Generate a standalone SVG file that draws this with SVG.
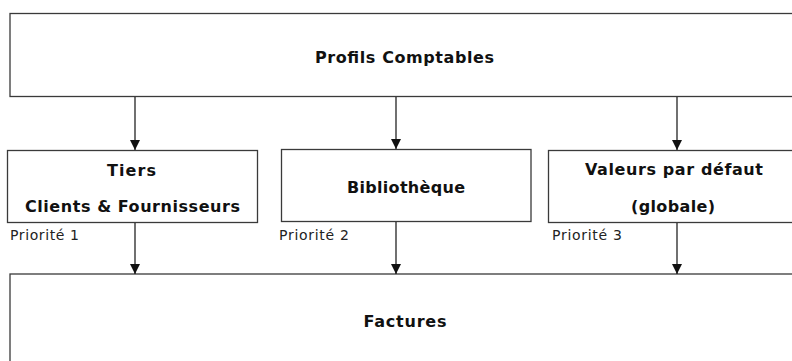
<svg xmlns="http://www.w3.org/2000/svg" width="792" height="361" viewBox="0 0 792 361">
<style>
.box{fill:#fff;stroke:#3a3a3a;stroke-width:1.3}
.t{font-family:"DejaVu Sans",Verdana,sans-serif;font-weight:bold;font-size:16px;fill:#111;text-anchor:middle}
.p{font-family:"DejaVu Sans",Verdana,sans-serif;font-size:14px;fill:#222}
.c{stroke:#111;stroke-width:1.2;fill:none;marker-end:url(#ah)}
</style>
<defs>
<marker id="ah" viewBox="0 0 10 10" refX="10" refY="5" markerWidth="10" markerHeight="10" markerUnits="userSpaceOnUse" orient="auto">
<path d="M0,0 L10,5 L0,10 Z" fill="#111"/>
</marker>
</defs>
<rect width="792" height="361" fill="#fff"/>
<g id="profils">
<rect class="box" x="10" y="13.5" width="790" height="83"/>
<text class="t" x="404.5" y="63" textLength="179" lengthAdjust="spacing">Profils Comptables</text>
</g>
<g id="tiers">
<rect class="box" x="7.5" y="150.5" width="250" height="72"/>
<text class="t" x="131.5" y="176" textLength="49" lengthAdjust="spacing">Tiers</text>
<text class="t" x="132.5" y="212" textLength="215" lengthAdjust="spacing">Clients &amp; Fournisseurs</text>
<text class="p" x="10" y="240" textLength="69" lengthAdjust="spacing">Priorité 1</text>
</g>
<g id="bibliotheque">
<rect class="box" x="281.5" y="149.5" width="249.5" height="72"/>
<text class="t" x="406" y="193" textLength="118" lengthAdjust="spacing">Bibliothèque</text>
<text class="p" x="279" y="240" textLength="70" lengthAdjust="spacing">Priorité 2</text>
</g>
<g id="valeurs">
<rect class="box" x="548.5" y="150.5" width="250" height="72"/>
<text class="t" x="674" y="175" textLength="178" lengthAdjust="spacing">Valeurs par défaut</text>
<text class="t" x="673" y="212" textLength="84" lengthAdjust="spacing">(globale)</text>
<text class="p" x="552" y="240" textLength="70" lengthAdjust="spacing">Priorité 3</text>
</g>
<g id="factures">
<rect class="box" x="10" y="274" width="790" height="100"/>
<text class="t" x="405" y="327" textLength="83" lengthAdjust="spacing">Factures</text>
</g>
<g id="connectors">
<line class="c" x1="135" y1="97" x2="135" y2="150"/>
<line class="c" x1="396" y1="97" x2="396" y2="149"/>
<line class="c" x1="677" y1="97" x2="677" y2="150"/>
<line class="c" x1="135" y1="223" x2="135" y2="274"/>
<line class="c" x1="396" y1="222" x2="396" y2="274"/>
<line class="c" x1="677" y1="223" x2="677" y2="274"/>
</g>
</svg>
